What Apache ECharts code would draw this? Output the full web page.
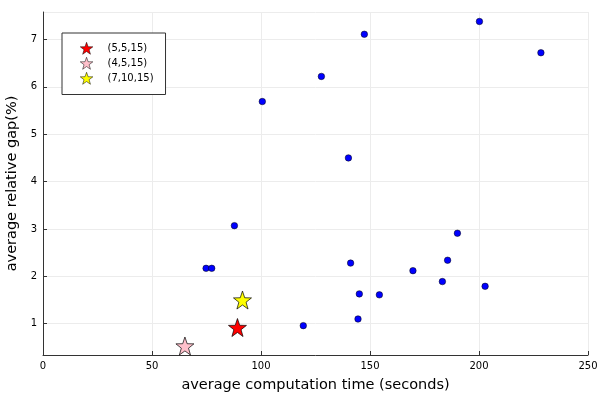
<!DOCTYPE html>
<html>
<head>
<meta charset="utf-8">
<script src="https://cdn.jsdelivr.net/npm/echarts@6/dist/echarts.min.js"></script>
<style>html,body{margin:0;padding:0;background:#fff}#c{width:600px;height:400px}</style>
</head>
<body>
<div id="c"></div>
<script>
const blueX = [100.6, 147.4, 200.2, 228.4, 127.7, 140.1, 87.8, 74.8, 77.4, 119.4, 141.1, 145.1, 144.5, 154.3, 169.7, 183.2, 185.6, 190.1, 202.8];
const blueY = [5.69, 7.11, 7.38, 6.72, 6.22, 4.50, 3.07, 2.17, 2.17, 0.96, 2.28, 1.63, 1.10, 1.61, 2.12, 1.89, 2.34, 2.91, 1.79];
const starNames = ['(5,5,15)', '(4,5,15)', '(7,10,15)'];
const starX = [89.2, 65.1, 91.5];
const starY = [0.92, 0.53, 1.50];
const starColors = ['#ff0000', '#ffc0cb', '#ffff00'];

function starPath() {
  const pts = [];
  for (let i = 0; i < 10; i++) {
    const r = i % 2 === 0 ? 50 : 20;
    const a = -Math.PI / 2 + i * Math.PI / 5;
    pts.push((50 + r * Math.cos(a)).toFixed(2) + ' ' + (50 + r * Math.sin(a)).toFixed(2));
  }
  return 'path://M' + pts.join(' L') + ' Z';
}
const STAR = starPath();
const FONT = 'DejaVu Sans';

const series = [{
  type: 'scatter',
  name: 'points',
  data: blueX.map((x, i) => [x, blueY[i]]),
  symbol: 'circle',
  symbolSize: 6.5,
  itemStyle: { color: '#0000ff', borderColor: '#000', borderWidth: 0.5, opacity: 1 },
  z: 2
}];
starNames.forEach((n, i) => {
  series.push({
    type: 'scatter',
    name: n,
    data: [[starX[i], starY[i]]],
    symbol: STAR,
    symbolSize: 18,
    itemStyle: { color: starColors[i], borderColor: '#000', borderWidth: 0.7, opacity: 1 },
    z: 3
  });
});

const chart = echarts.init(document.getElementById('c'), null, { renderer: 'canvas' });
chart.setOption({
  animation: false,
  backgroundColor: '#fff',
  textStyle: { fontFamily: FONT },
  grid: { left: 43, right: 12, top: 12, bottom: 45, containLabel: false, outerBoundsMode: 'none' },
  legend: {
    data: starNames,
    orient: 'vertical',
    left: 62,
    top: 33,
    padding: [9, 12, 10, 18],
    itemGap: 2.5,
    itemWidth: 16,
    itemHeight: 12,
    borderColor: '#333',
    borderWidth: 1,
    borderRadius: 0,
    backgroundColor: '#fff',
    itemStyle: { borderWidth: 0.5, borderColor: '#000' },
    textStyle: { fontFamily: FONT, fontSize: 10, color: '#000', padding: [0, 0, 0, 8] }
  },
  xAxis: {
    type: 'value',
    min: 0, max: 250, interval: 50,
    name: 'average computation time (seconds)',
    nameLocation: 'middle',
    nameGap: 23,
    nameTextStyle: { fontFamily: FONT, fontSize: 14.5, color: '#000' },
    axisLine: { show: true, lineStyle: { color: '#333', width: 1 } },
    axisTick: { show: true, inside: true, length: 4, lineStyle: { color: '#333' } },
    axisLabel: { fontFamily: FONT, fontSize: 10, color: '#000', margin: 6 },
    splitLine: { show: true, lineStyle: { color: '#ececec', width: 1 } }
  },
  yAxis: {
    type: 'value',
    min: 0.34, max: 7.58, splitNumber: 7,
    name: 'average relative gap(%)',
    nameLocation: 'middle',
    nameGap: 18,
    nameTextStyle: { fontFamily: FONT, fontSize: 14.5, color: '#000' },
    axisLine: { show: true, lineStyle: { color: '#333', width: 1 } },
    axisTick: { show: true, inside: true, length: 4, lineStyle: { color: '#333' } },
    axisLabel: { fontFamily: FONT, fontSize: 10, color: '#000', margin: 6, showMinLabel: false, showMaxLabel: false },
    splitLine: { show: true, lineStyle: { color: '#ececec', width: 1 } }
  },
  series: series
});
</script>
</body>
</html>
